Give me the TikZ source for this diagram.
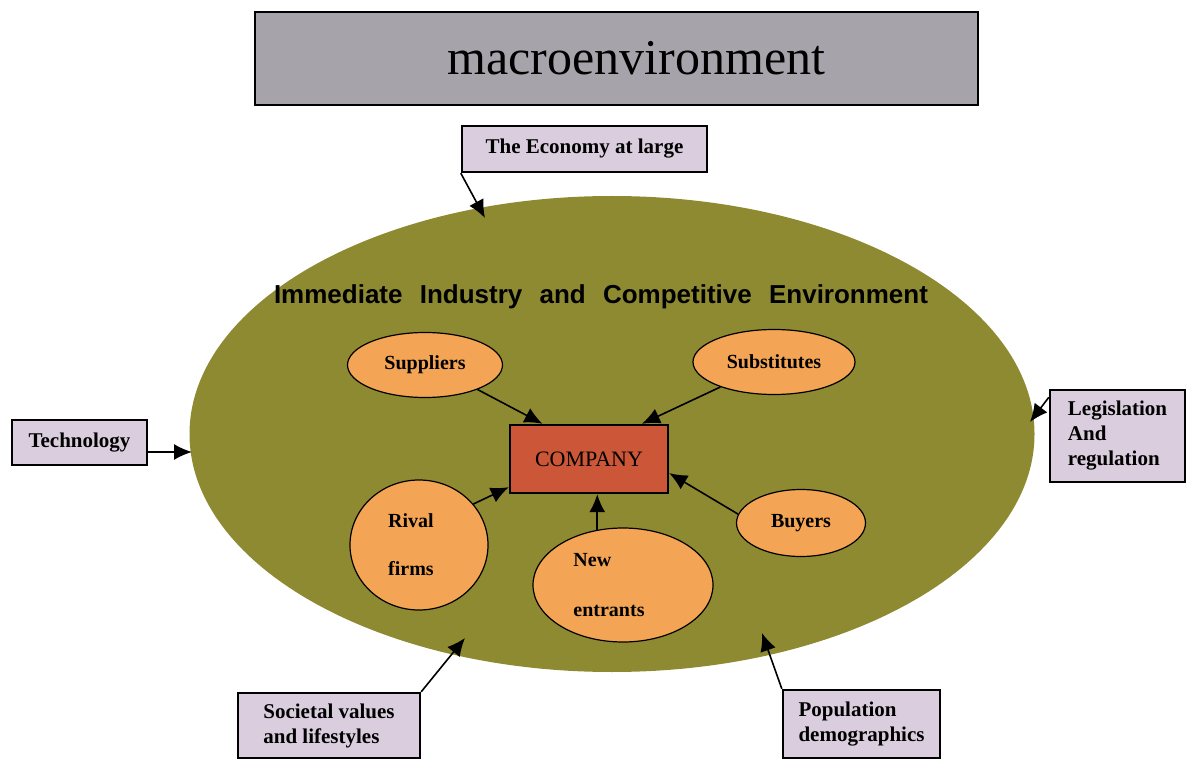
\documentclass[tikz,border=0pt]{standalone}
\usepackage{fontspec}
\setmainfont{Liberation Serif}
\newfontfamily\headfont{Liberation Sans}
\usetikzlibrary{shapes.geometric,arrows.meta,calc}

\definecolor{titlegray}{RGB}{166,164,170}
\definecolor{boxlilac}{RGB}{218,206,222}
\definecolor{envolive}{RGB}{142,138,50}
\definecolor{forceorange}{RGB}{243,164,84}
\definecolor{companyred}{RGB}{204,86,56}

\tikzset{every picture/.style={x=0.5pt,y=-0.5pt},
  factor/.style={draw,very thick,fill=boxlilac,align=left,inner sep=0pt,
    font=\bfseries\fontsize{10.5}{12.5}\selectfont},
  force/.style={ellipse,draw,semithick,fill=forceorange,inner sep=0pt,
    font=\bfseries\fontsize{10}{12}\selectfont},
  push/.style={-{Latex[length=9pt,width=8pt]},thick}}

\begin{document}
\begin{tikzpicture}
\useasboundingbox (0,0) rectangle (1189,759);
\node[draw,thick,fill=titlegray,minimum width=361.5pt,minimum height=46.5pt,
  font=\fontsize{25}{30}\selectfont] (title) at (616.5,58.5) {\hspace*{20pt}macroenvironment};
\node[ellipse,fill=envolive,minimum width=422.5pt,minimum height=238pt] (env) at (612,434) {};
\node[font=\headfont\bfseries\fontsize{13}{15}\selectfont] (head) at (601,297)
  {Immediate\hspace{5pt} Industry\hspace{5pt} and\hspace{5pt} Competitive\hspace{5pt} Environment};
\node[draw,very thick,fill=companyred,minimum width=79pt,minimum height=34pt,
  font=\fontsize{11}{13}\selectfont] (comp) at (589,459) {COMPANY\\[6pt]};
\node[force,minimum width=77.5pt,minimum height=32.5pt] (supp) at (425,365) {Suppliers};
\node[force,minimum width=81pt,minimum height=32.5pt] (subs) at (774,362) {Substitutes};
\node[force,minimum width=69pt,minimum height=65pt,align=left] (rival) at (419,545) {Rival\\[12pt]firms\hspace*{8pt}};
\node[force,minimum width=90pt,minimum height=57pt,align=left] (newent) at (623,585) {New\\[13pt]entrants\hspace*{14pt}};
\node[force,minimum width=64.5pt,minimum height=33.5pt] (buyers) at (801,523) {Buyers};
\node[factor,minimum width=122.5pt,minimum height=23pt] (econ) at (584.5,149) {The Economy at large};
\node[factor,minimum width=67.5pt,minimum height=22.5pt] (tech) at (79.5,442.5) {Technology};
\node[factor,minimum width=67.5pt,minimum height=46pt] (legis) at (1117.5,436) {Legislation\\And\\regulation};
\node[factor,minimum width=91pt,minimum height=32.5pt] (soc) at (329,725.5) {Societal values\\and lifestyles};
\node[factor,minimum width=78.5pt,minimum height=34pt] (pop) at (861.5,724) {Population\\demographics};
% free ends on the rim of the big ellipse
\coordinate (econtip) at (485,218);
\coordinate (techtip) at (192,452);
\coordinate (legistip) at (1030,422);
\coordinate (soctip) at (465,638);
\coordinate (poptip) at (762,633);
\draw[push] (econ.south west) -- (econtip);
\draw[push] (tech.east |- techtip) -- (techtip);
\draw[push] ($(legis.north west)!0.09!(legis.south west)$) -- (legistip);
\draw[push] (soc.north east) -- (soctip);
\draw[push] (pop.north west) -- (poptip);
% forces acting on the company
\draw[push] (supp.-25) -- ($(comp.north west)!0.21!(comp.north east)$);
\draw[push] (subs.-155) -- ($(comp.north west)!0.83!(comp.north east)$);
\draw[push] (rival.37) -- ($(comp.south west)!0.1!(comp.north west)$);
\draw[push] (newent.115) -- (newent.115 |- comp.south);
\draw[push] (buyers.172) -- ($(comp.south east)!0.3!(comp.north east)$);
\end{tikzpicture}
\end{document}
